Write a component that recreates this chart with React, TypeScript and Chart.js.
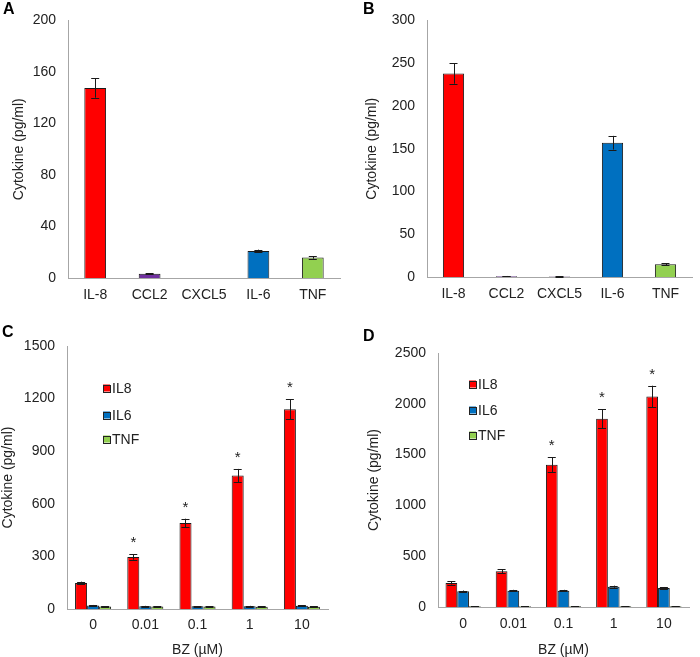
import React, { useEffect, useRef } from "react";
import { Chart, registerables } from "chart.js";
Chart.register(...registerables);

// ---------------- DATA ----------------
const CYTOKINES = ["IL-8", "CCL2", "CXCL5", "IL-6", "TNF"];
const A_VALUES = [147.5, 3.3, 0, 21, 16];
const A_ERRORS = [7.5, 0.3, 0, 1, 1];
const A_TICKS = [0, 40, 80, 120, 160, 200];

const B_VALUES = [238, 1, 0.5, 157, 15];
const B_ERRORS = [12, 0.2, 0.2, 8, 1];
const B_TICKS = [0, 50, 100, 150, 200, 250, 300];

const BZ_DOSES = ["0", "0.01", "0.1", "1", "10"];
const SERIES_NAMES = ["IL8", "IL6", "TNF"];

const C_IL8 = [148, 296, 490, 761, 1139];
const C_IL8_ERR = [8, 15, 25, 38, 57];
const C_IL6 = [20, 16, 15, 16, 18];
const C_IL6_ERR = [3, 2, 2, 2, 2];
const C_TNF = [14, 14, 14, 13, 13];
const C_TNF_ERR = [2, 2, 2, 2, 2];
const C_SIG = [false, true, true, true, true];
const C_TICKS = [0, 300, 600, 900, 1200, 1500];

const D_IL8 = [236, 351, 1401, 1854, 2073];
const D_IL8_ERR = [15, 20, 75, 93, 105];
const D_IL6 = [154, 161, 161, 200, 187];
const D_IL6_ERR = [8, 8, 8, 10, 10];
const D_TNF = [8, 8, 8, 8, 8];
const D_TNF_ERR = [1, 1, 1, 1, 1];
const D_SIG = [false, false, true, true, true];
const D_TICKS = [0, 500, 1000, 1500, 2000, 2500];

// ---------------- STYLE ----------------
const FONT = "'Liberation Sans', Arial, sans-serif";
const RED = "#FF0000";
const PURPLE = "#7030A0";
const BLUE = "#0070C0";
const GREEN = "#92D050";
const AXIS = "#A6A6A6";
const TEXT = "#222222";

type DS = { label: string; data: number[]; err: number[]; color: string | string[]; sig?: boolean[] };
type Spec = {
  letter: string;
  letterX: number;
  letterY: number;
  left: number;
  top: number;
  width: number;
  height: number;
  area: { l: number; t: number; r: number; b: number };
  labels: string[];
  datasets: DS[];
  ticks: number[];
  xTitle?: string;
  yTitlePad: number;
  xTickPad: number;
  barPct: number;
  catPct: number;
  legend?: { x: number; ys: number[] };
};

const SPECS: Spec[] = [
  {
    letter: "A", letterX: 3, letterY: 14,
    left: 0, top: 0, width: 350, height: 320,
    area: { l: 68, t: 17, r: 340, b: 278 },
    labels: CYTOKINES,
    datasets: [{ label: "A", data: A_VALUES, err: A_ERRORS, color: [RED, PURPLE, PURPLE, BLUE, GREEN] }],
    ticks: A_TICKS, yTitlePad: 12, xTickPad: 9, barPct: 0.4, catPct: 1,
  },
  {
    letter: "B", letterX: 13, letterY: 14,
    left: 350, top: 0, width: 350, height: 320,
    area: { l: 77, t: 17, r: 342, b: 277 },
    labels: CYTOKINES,
    datasets: [{ label: "B", data: B_VALUES, err: B_ERRORS, color: [RED, PURPLE, PURPLE, BLUE, GREEN] }],
    ticks: B_TICKS, yTitlePad: 15, xTickPad: 9, barPct: 0.4, catPct: 1,
  },
  {
    letter: "C", letterX: 2, letterY: 17,
    left: 0, top: 320, width: 350, height: 337,
    area: { l: 67, t: 26, r: 328, b: 289 },
    labels: BZ_DOSES,
    datasets: [
      { label: SERIES_NAMES[0], data: C_IL8, err: C_IL8_ERR, color: RED, sig: C_SIG },
      { label: SERIES_NAMES[1], data: C_IL6, err: C_IL6_ERR, color: BLUE },
      { label: SERIES_NAMES[2], data: C_TNF, err: C_TNF_ERR, color: GREEN },
    ],
    ticks: C_TICKS, xTitle: "BZ (µM)", yTitlePad: 1, xTickPad: 8, barPct: 1, catPct: 0.69,
    legend: { x: 103, ys: [68, 95, 119] },
  },
  {
    letter: "D", letterX: 13, letterY: 21,
    left: 350, top: 320, width: 350, height: 337,
    area: { l: 88, t: 33, r: 339, b: 287 },
    labels: BZ_DOSES,
    datasets: [
      { label: SERIES_NAMES[0], data: D_IL8, err: D_IL8_ERR, color: RED, sig: D_SIG },
      { label: SERIES_NAMES[1], data: D_IL6, err: D_IL6_ERR, color: BLUE },
      { label: SERIES_NAMES[2], data: D_TNF, err: D_TNF_ERR, color: GREEN },
    ],
    ticks: D_TICKS, xTitle: "BZ (µM)", yTitlePad: 17, xTickPad: 9, barPct: 1, catPct: 0.7,
    legend: { x: 119, ys: [64, 90, 115] },
  },
];

function Panel({ spec }: { spec: Spec }) {
  const ref = useRef<HTMLCanvasElement | null>(null);
  useEffect(() => {
    const canvas = ref.current;
    if (!canvas) return;
    const s = spec;
    const overlay = {
      id: "overlay" + s.letter,
      afterDatasetsDraw(chart: any) {
        const ctx = chart.ctx;
        const ys = chart.scales.y;
        ctx.save();
        chart.data.datasets.forEach((ds: any, i: number) => {
          const meta = chart.getDatasetMeta(i);
          const errs = s.datasets[i].err;
          const sig = s.datasets[i].sig;
          meta.data.forEach((el: any, j: number) => {
            const v = ds.data[j];
            const e = errs[j];
            const x = el.x;
            let yTop = ys.getPixelForValue(v);
            if (e) {
              yTop = ys.getPixelForValue(v + e);
              const yBot = ys.getPixelForValue(Math.max(0, v - e));
              ctx.strokeStyle = "#1a1a1a";
              ctx.lineWidth = 1;
              ctx.beginPath();
              ctx.moveTo(Math.round(x) + 0.5, yTop);
              ctx.lineTo(Math.round(x) + 0.5, yBot);
              ctx.moveTo(x - 4, Math.round(yTop) + 0.5);
              ctx.lineTo(x + 4, Math.round(yTop) + 0.5);
              ctx.moveTo(x - 4, Math.round(yBot) + 0.5);
              ctx.lineTo(x + 4, Math.round(yBot) + 0.5);
              ctx.stroke();
            }
            if (sig && sig[j]) {
              ctx.fillStyle = TEXT;
              ctx.font = "15px " + FONT;
              ctx.textAlign = "center";
              ctx.textBaseline = "alphabetic";
              ctx.fillText("*", x, yTop - 7);
            }
          });
        });
        ctx.restore();
      },
      afterDraw(chart: any) {
        const ctx = chart.ctx;
        ctx.save();
        ctx.fillStyle = "#000";
        ctx.font = "bold 16px " + FONT;
        ctx.textAlign = "left";
        ctx.textBaseline = "alphabetic";
        ctx.fillText(s.letter, s.letterX, s.letterY);
        if (s.legend) {
          const lg = s.legend;
          s.datasets.forEach((d, i) => {
            const y = lg.ys[i];
            ctx.fillStyle = d.color as string;
            ctx.fillRect(lg.x, y - 3.5, 7, 7);
            ctx.strokeStyle = "#222";
            ctx.lineWidth = 1;
            ctx.strokeRect(lg.x + 0.5, Math.round(y - 3.5) + 0.5, 7, 7);
            ctx.fillStyle = TEXT;
            ctx.font = "14px " + FONT;
            ctx.textBaseline = "middle";
            ctx.fillText(d.label, lg.x + 9, y + 1);
          });
        }
        ctx.restore();
      },
    };

    const chart = new Chart(canvas, {
      type: "bar",
      data: {
        labels: s.labels,
        datasets: s.datasets.map((d) => ({
          label: d.label,
          data: d.data,
          backgroundColor: d.color,
          borderColor: "#1a1a1a",
          borderWidth: 1,
          barPercentage: s.barPct,
          categoryPercentage: s.catPct,
        })),
      },
      options: {
        responsive: false,
        maintainAspectRatio: false,
        animation: false,
        layout: {
          padding: { left: 0, top: s.area.t, right: s.width - s.area.r, bottom: 0 },
        },
        plugins: {
          legend: { display: false },
          tooltip: { enabled: false },
        },
        scales: {
          x: {
            grid: { display: false, drawTicks: false },
            border: { display: true, color: AXIS, width: 1 },
            ticks: {
              color: TEXT,
              font: { family: FONT, size: 14 },
              padding: s.xTickPad,
              maxRotation: 0,
              autoSkip: false,
            },
            title: s.xTitle
              ? { display: true, text: s.xTitle, color: TEXT, font: { family: FONT, size: 14, lineHeight: 1 }, padding: 0 }
              : { display: false },
            afterFit: (scale: any) => {
              scale.height = s.height - s.area.b;
            },
          },
          y: {
            min: 0,
            max: s.ticks[s.ticks.length - 1],
            grid: { display: false, drawTicks: false },
            border: { display: true, color: AXIS, width: 1 },
            ticks: {
              color: TEXT,
              font: { family: FONT, size: 14 },
              padding: 12,
              callback: (v: any) => String(v),
            },
            afterBuildTicks: (scale: any) => {
              scale.ticks = s.ticks.map((v) => ({ value: v }));
            },
            title: {
              display: true,
              text: "Cytokine (pg/ml)",
              color: TEXT,
              font: { family: FONT, size: 14, lineHeight: 1 },
              padding: { top: s.yTitlePad, bottom: 0 },
            },
            afterFit: (scale: any) => {
              scale.width = s.area.l;
            },
          },
        },
      },
      plugins: [overlay],
    } as any);
    return () => chart.destroy();
  }, [spec]);

  return (
    <canvas
      ref={ref}
      width={spec.width}
      height={spec.height}
      style={{ position: "absolute", left: spec.left, top: spec.top, width: spec.width, height: spec.height }}
    />
  );
}

export default function App() {
  return (
    <div style={{ position: "fixed", left: 0, top: 0, width: 700, height: 657, background: "#fff", overflow: "hidden" }}>
      {SPECS.map((sp) => (
        <Panel key={sp.letter} spec={sp} />
      ))}
    </div>
  );
}
